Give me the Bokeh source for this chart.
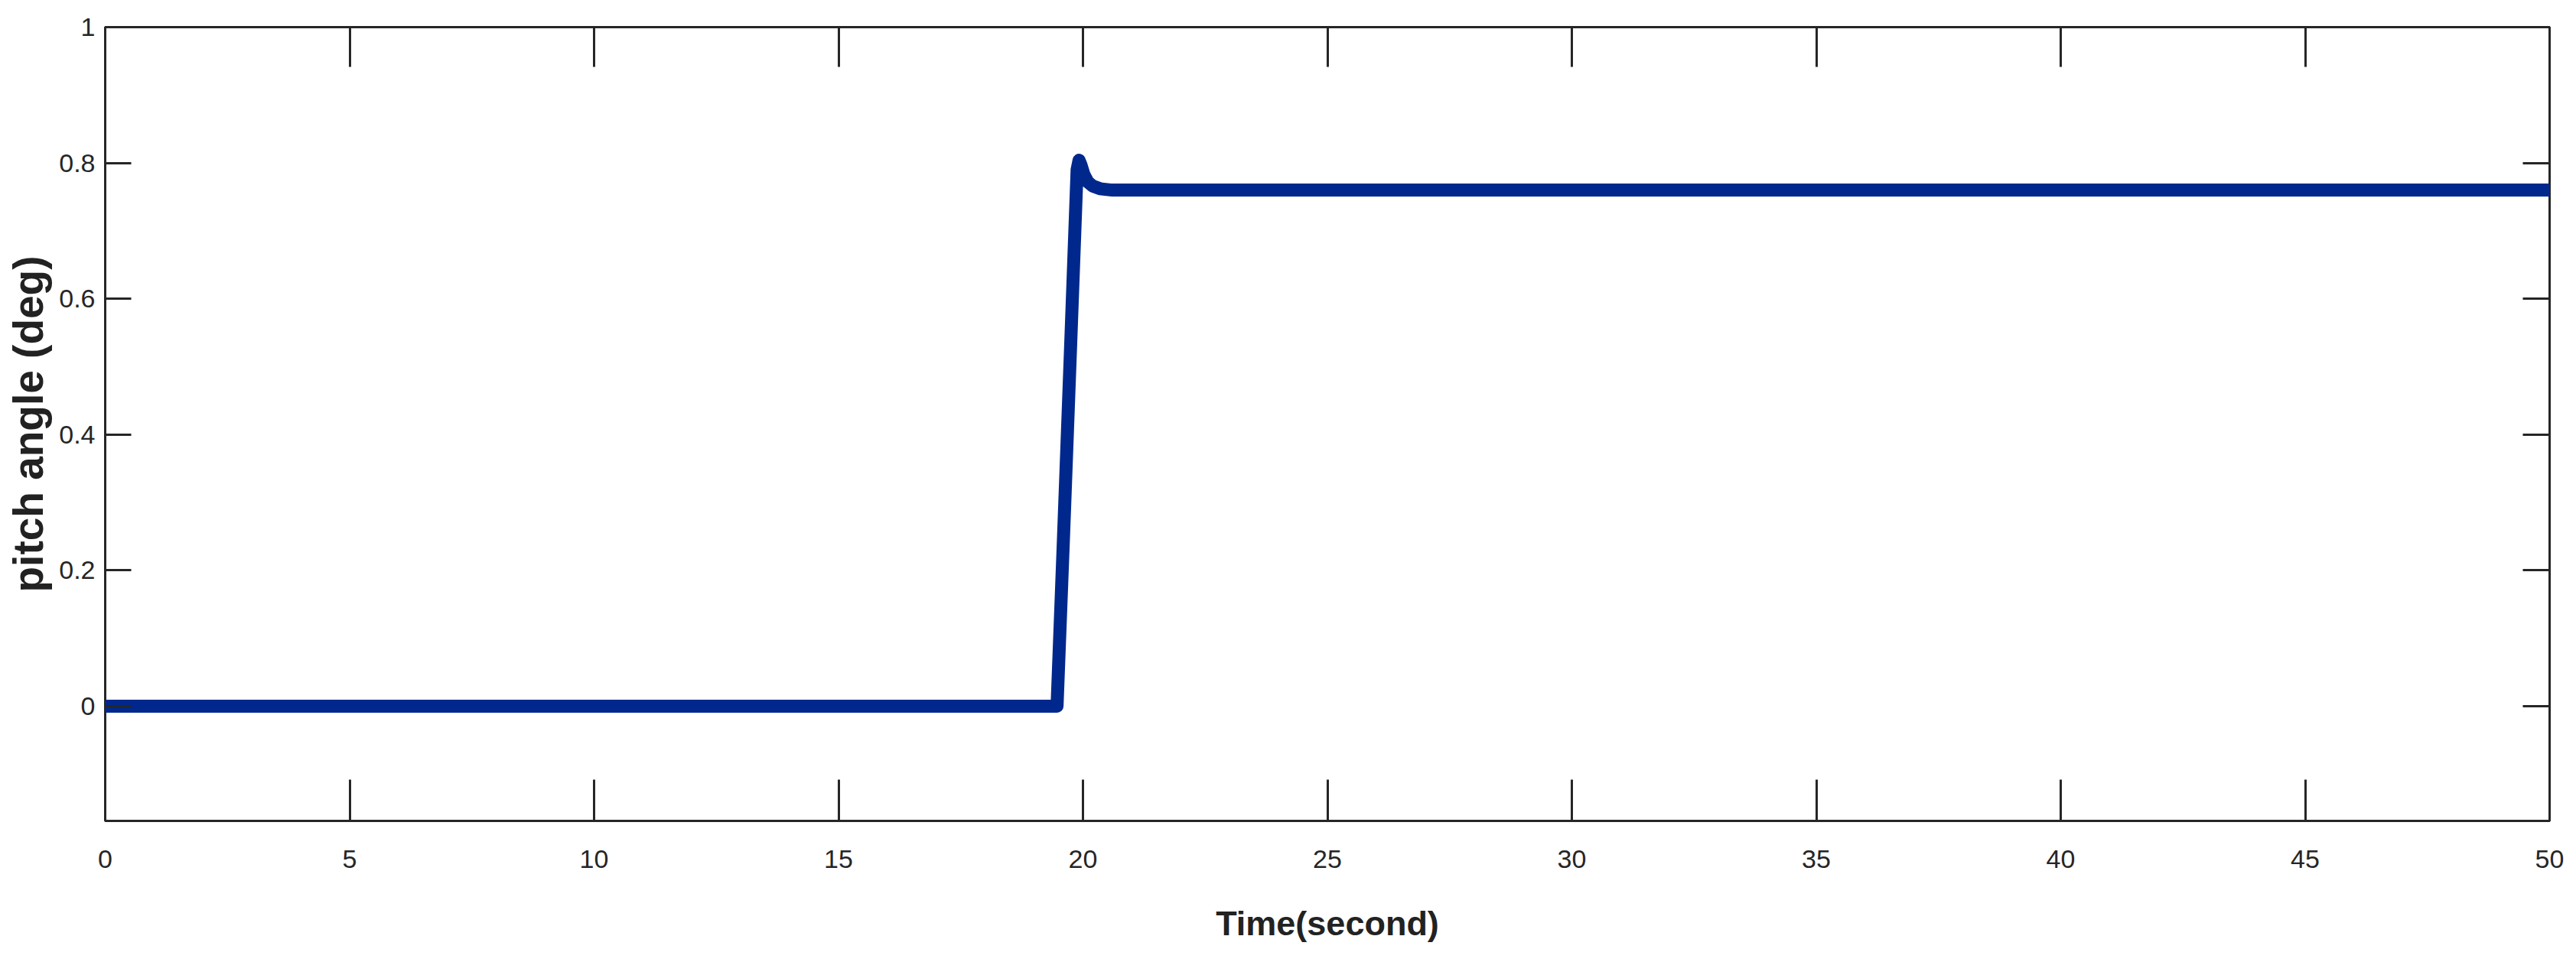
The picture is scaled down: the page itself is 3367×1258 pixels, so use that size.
from bokeh.plotting import figure
from bokeh.models import Range1d, LinearAxis, FixedTicker, CustomJSTickFormatter
from bokeh.embed import file_html
from bokeh.resources import INLINE

# ---- data ----
time_s = [0.0, 19.47, 19.60, 19.75, 19.88, 19.92, 19.96, 20.02, 20.10, 20.20, 20.35, 20.60, 21.0, 50.0]
pitch_deg = [0.0, 0.0, 0.245, 0.535, 0.790, 0.804, 0.797, 0.783, 0.772, 0.766, 0.762, 0.760, 0.760, 0.760]
x_ticks = [0, 5, 10, 15, 20, 25, 30, 35, 40, 45, 50]
y_ticks = [0, 0.2, 0.4, 0.6, 0.8, 1.0]
x_label = "Time(second)"
y_label = "pitch angle (deg)"

LINE_COLOR = "#00288C"
AX_COLOR = "#262626"
FONT = "Liberation Sans"

p = figure(width=3359, height=1250, output_backend="svg", toolbar_location=None,
           x_range=Range1d(0, 50), y_range=Range1d(-0.169, 1.0),
           x_axis_location=None, y_axis_location=None,
           min_border_left=137, min_border_right=27, min_border_top=35, min_border_bottom=177)
p.xgrid.visible = False
p.ygrid.visible = False
p.outline_line_color = AX_COLOR
p.outline_line_width = 3
p.background_fill_color = "white"
p.border_fill_color = "white"

fmt = CustomJSTickFormatter(code="return Number(tick.toFixed(2)).toString();")

def style(ax, tick_in, show_labels):
    ax.axis_line_color = None
    ax.major_tick_in = tick_in
    ax.major_tick_out = 0
    ax.minor_tick_in = 0
    ax.minor_tick_out = 0
    ax.major_tick_line_color = AX_COLOR
    ax.major_tick_line_width = 3
    if show_labels:
        ax.major_label_text_font = FONT
        ax.major_label_text_font_size = "34px"
        ax.major_label_text_color = AX_COLOR
    else:
        ax.major_label_text_font_size = "10px"
        ax.major_label_text_color = None
        ax.major_label_standoff = 0

bottom = LinearAxis(ticker=FixedTicker(ticks=x_ticks), formatter=fmt)
style(bottom, 54, True)
bottom.major_label_standoff = 38
bottom.axis_label = x_label
bottom.axis_label_text_font = FONT
bottom.axis_label_text_font_style = "bold"
bottom.axis_label_text_font_size = "45px"
bottom.axis_label_text_color = "#222222"
bottom.axis_label_standoff = 44
p.add_layout(bottom, "below")

left = LinearAxis(ticker=FixedTicker(ticks=y_ticks), formatter=fmt)
style(left, 34, True)
left.major_label_standoff = 13
left.axis_label = y_label
left.axis_label_text_font = FONT
left.axis_label_text_font_style = "bold"
left.axis_label_text_font_size = "55px"
left.axis_label_text_color = "#222222"
left.axis_label_standoff = 6
p.add_layout(left, "left")

top = LinearAxis(ticker=FixedTicker(ticks=x_ticks))
style(top, 52, False)
p.add_layout(top, "above")

right = LinearAxis(ticker=FixedTicker(ticks=y_ticks))
style(right, 35, False)
p.add_layout(right, "right")

p.line(time_s, pitch_deg, line_color=LINE_COLOR, line_width=17, line_join="round", line_cap="butt")

open("out.html", "w").write(file_html(p, INLINE))
